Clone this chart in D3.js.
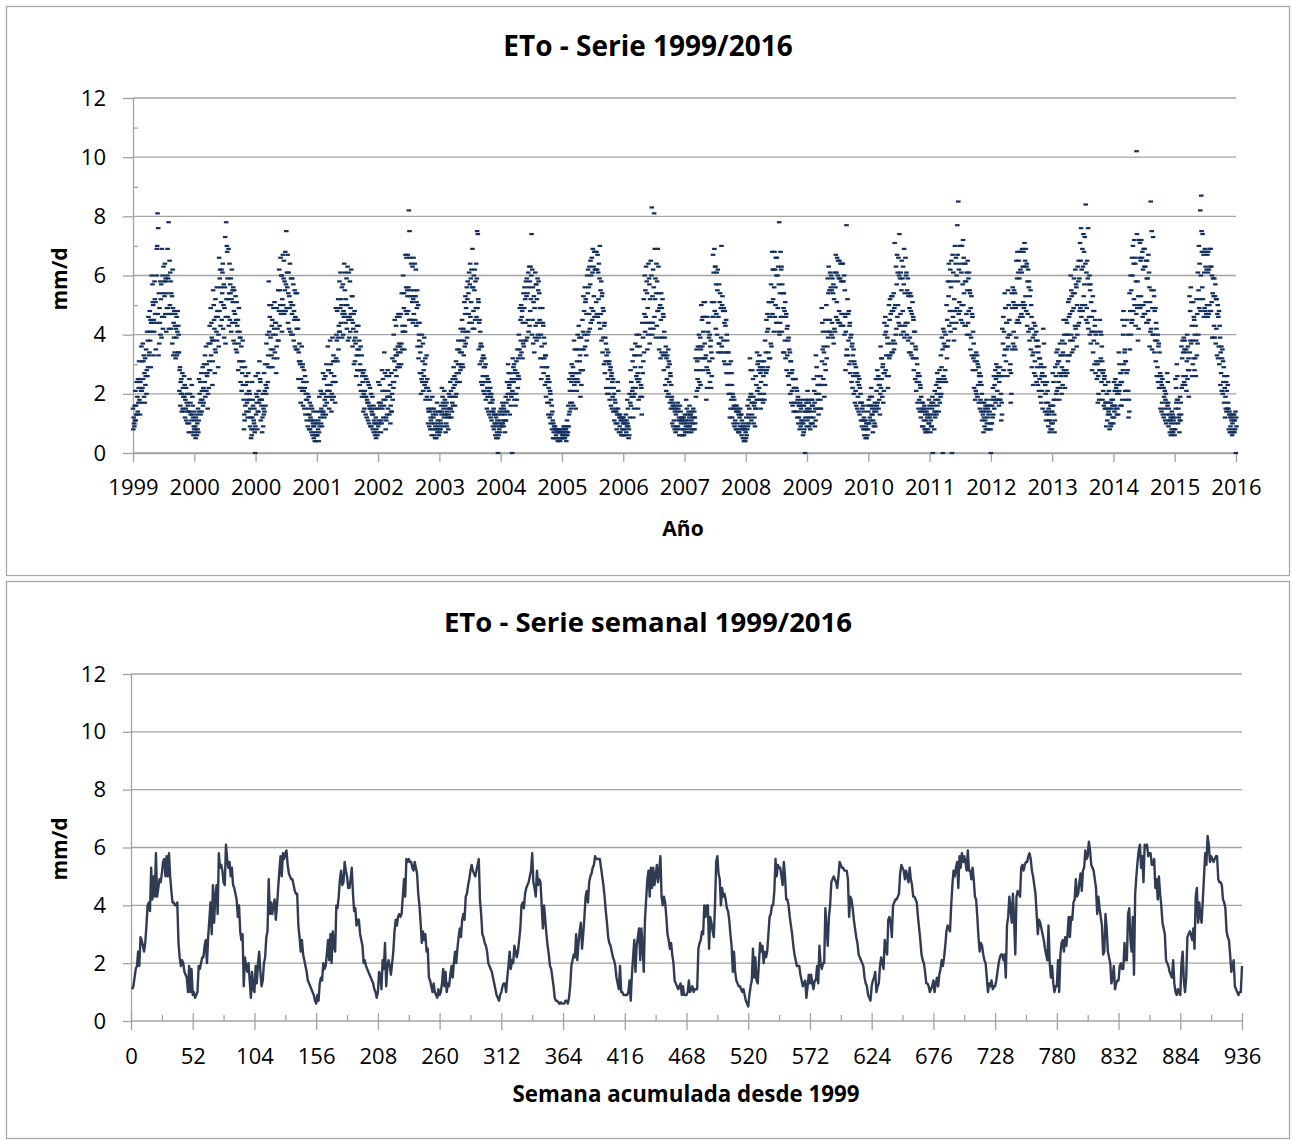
<!DOCTYPE html>
<html>
<head>
<meta charset="utf-8">
<script src="https://cdn.jsdelivr.net/npm/d3@7"></script>
<style>
  body { margin: 0; background: #fff; }
  svg text { font-family: "Open Sans", sans-serif; fill: #000; }
</style>
</head>
<body>
<svg id="chart" width="1292" height="1140"></svg>
<script>
// ---- weekly ETo (mm/d), 52 weeks per year ----
const weekly1999 = [1.1,1.2,1.5,1.8,1.9,2.4,1.9,2.9,2.8,2.6,2.4,2.7,3.3,4.0,4.1,3.8,5.3,4.2,5.0,4.3,5.8,4.3,4.6,4.9,4.8,5.1,5.5,5.6,5.0,5.7,5.0,5.8,5.0,4.5,4.1,4.1,4.0,4.0,4.1,2.7,2.2,1.9,2.1,2.0,1.7,1.6,1.5,1.0,1.9,1.0,1.8,0.9];
const weekly2000 = [1.0,0.8,0.9,1.0,1.9,1.8,2.0,2.2,2.2,2.6,2.8,2.0,2.9,3.5,4.1,3.0,4.7,3.4,4.3,4.7,3.7,5.8,5.3,5.4,5.2,4.8,4.7,6.1,5.6,5.3,5.5,5.0,5.3,4.7,4.6,4.4,4.2,3.6,4.0,3.1,2.8,3.0,1.2,2.2,1.9,1.7,2.0,1.4,0.8,1.7,1.1,1.0];
const weekly2001 = [1.9,1.3,2.0,2.4,1.7,1.2,1.4,2.0,2.2,2.9,3.1,4.9,3.7,4.1,3.7,4.0,4.2,3.5,4.0,4.6,5.2,5.7,5.0,5.8,5.6,5.8,5.9,5.4,5.1,5.0,4.9,4.9,4.7,4.5,4.4,4.4,3.3,2.9,2.4,2.8,2.3,2.1,1.9,1.7,1.4,1.3,1.2,1.1,1.0,0.9,0.7,0.6];
const weekly2002 = [0.9,0.7,1.3,1.5,1.4,2.0,1.8,1.9,2.3,2.8,2.1,3.0,2.0,3.1,2.6,2.4,4.0,3.9,4.3,4.9,5.2,4.7,4.8,5.5,5.2,5.0,4.6,4.6,4.9,5.3,4.4,3.8,3.9,3.3,3.5,3.5,3.0,2.8,2.6,2.0,2.1,1.9,1.8,1.7,1.6,1.5,1.4,1.3,1.1,1.0,0.8,1.0];
const weekly2003 = [1.7,1.6,1.1,2.1,1.8,2.7,1.2,1.9,2.1,1.9,1.6,2.0,2.4,3.1,3.5,3.3,3.6,3.7,3.6,3.7,4.3,4.9,4.3,5.6,5.5,5.6,5.5,5.5,5.3,5.2,5.5,5.3,5.1,4.4,4.0,3.4,2.7,3.1,2.8,3.0,2.4,2.5,1.5,1.4,1.2,1.0,1.3,1.0,0.9,0.8,1.1,0.9];
const weekly2004 = [1.0,1.3,1.8,1.2,1.7,1.0,1.3,1.2,1.6,1.9,1.5,2.0,2.4,2.0,2.5,2.9,3.2,2.9,3.5,3.7,3.5,4.3,4.4,4.7,4.9,5.2,5.4,5.2,5.1,5.0,5.2,5.4,5.6,4.2,3.7,3.0,2.9,2.7,2.6,2.4,2.0,1.9,1.8,1.7,1.5,1.3,1.1,0.9,0.8,0.7,0.9,1.0];
const weekly2005 = [1.2,1.3,1.3,1.0,1.5,1.9,2.4,1.8,2.1,2.0,2.6,2.4,2.2,2.4,2.8,3.2,4.0,4.1,3.9,4.4,4.6,4.7,4.8,5.0,5.2,5.8,4.8,4.6,4.3,5.2,4.7,4.9,4.8,4.0,3.2,4.0,3.5,3.0,2.6,2.3,1.9,1.8,1.5,1.2,0.8,0.7,0.7,0.65,0.6,0.65,0.6,0.6];
const weekly2006 = [0.6,0.7,0.7,0.6,0.8,1.2,1.9,2.1,2.3,2.2,3.0,2.1,2.7,3.1,3.4,2.5,3.0,3.6,4.3,4.5,4.1,4.8,5.0,5.1,5.3,5.4,5.7,5.6,5.6,5.6,5.6,5.3,5.0,4.7,4.3,3.8,3.4,2.9,2.7,2.6,2.4,2.2,2.1,1.9,1.5,1.3,1.1,1.9,1.0,1.0,0.9,0.9];
const weekly2007 = [0.9,0.9,1.0,1.4,0.7,1.6,2.2,2.8,1.7,2.6,2.9,3.2,2.1,3.2,2.6,1.7,3.5,4.2,4.9,5.2,4.3,5.3,4.6,5.3,4.7,5.0,5.4,4.8,5.2,5.7,4.3,4.0,4.3,4.1,3.6,3.0,2.8,2.5,2.7,2.3,2.0,1.4,1.3,1.2,1.1,1.2,1.3,0.9,1.2,0.9,0.9,0.9];
const weekly2008 = [1.0,1.4,1.0,1.1,1.2,1.0,1.1,1.1,1.1,2.5,2.7,2.8,3.1,3.0,4.0,3.6,4.0,4.0,2.5,3.6,3.4,3.1,2.9,4.0,5.5,5.7,5.1,4.9,4.0,4.6,4.3,4.4,4.2,3.9,3.8,3.5,3.0,2.6,1.7,2.4,1.7,1.4,1.3,1.2,1.2,1.1,1.0,1.1,0.9,0.7,0.6,0.5];
const weekly2009 = [0.9,1.2,1.4,2.5,1.5,2.2,1.4,1.3,2.0,2.7,2.4,2.6,2.0,2.4,2.2,2.4,3.0,3.6,3.7,4.0,4.0,4.5,5.6,5.0,5.4,5.3,5.3,5.0,4.7,5.5,5.0,4.2,4.2,4.0,3.6,3.3,3.0,2.6,2.3,2.1,1.9,1.9,1.9,1.6,1.4,1.2,1.3,1.4,0.8,1.2,1.6,1.3];
const weekly2010 = [1.6,1.3,1.1,1.4,1.4,1.9,1.3,2.6,2.0,1.8,2.0,2.0,3.9,3.2,2.6,3.6,4.0,4.8,4.9,5.0,4.9,4.8,4.6,5.0,5.5,5.4,5.3,5.3,5.2,5.2,5.2,4.9,3.6,4.3,4.2,3.9,3.5,3.2,2.9,2.7,2.3,2.2,2.1,2.0,1.9,1.5,1.3,1.2,0.9,0.8,0.7,1.2];
const weekly2011 = [1.4,1.5,1.7,1.0,1.2,1.3,1.9,2.2,2.0,1.8,2.8,2.5,2.3,3.5,3.6,3.4,2.9,4.0,4.1,4.2,4.2,4.3,4.4,5.1,5.4,5.3,5.2,4.9,5.2,5.0,4.8,5.3,4.9,4.7,4.3,4.3,4.2,4.1,3.6,3.2,2.8,2.3,2.1,2.0,1.7,1.3,1.3,1.2,1.0,1.1,1.2,1.4];
const weekly2012 = [1.0,1.3,1.5,1.2,1.6,1.8,2.1,1.9,2.2,2.6,3.1,3.3,3.2,3.1,4.0,4.7,5.2,5.0,5.3,5.5,4.6,5.7,5.3,5.8,5.5,5.7,5.5,5.2,5.9,5.2,5.2,4.9,5.3,4.9,4.3,4.2,3.6,2.9,2.4,2.7,2.6,2.3,2.1,2.0,1.5,1.0,1.3,1.2,1.4,1.1,1.2,1.2];
const weekly2013 = [1.4,1.7,2.0,2.2,2.3,2.3,2.1,2.3,1.5,3.3,3.6,4.3,3.9,3.4,4.4,3.5,2.3,4.3,4.5,4.4,4.3,5.3,5.4,5.2,5.4,5.5,5.5,5.7,5.8,5.6,5.2,5.0,4.7,4.4,3.7,3.0,3.5,3.4,3.2,3.0,2.8,2.5,2.3,2.1,3.3,2.0,1.5,1.9,1.3,1.0,1.2,1.2];
const weekly2014 = [2.1,1.0,2.3,2.7,2.8,2.4,2.9,2.6,3.0,3.6,2.9,3.6,3.5,4.1,4.2,4.9,4.3,4.4,4.8,5.1,4.5,5.2,5.3,5.9,5.6,5.7,6.2,5.9,5.4,5.3,5.2,4.9,4.6,3.7,4.3,3.9,3.6,3.3,2.3,2.4,3.7,3.2,2.4,2.2,2.0,1.3,1.5,1.9,1.1,1.3,1.4,1.4];
const weekly2015 = [1.9,2.0,1.8,1.8,2.7,2.1,2.1,3.7,3.9,2.8,2.4,3.6,1.6,4.4,5.0,5.5,5.9,6.1,5.3,5.7,4.8,6.1,6.0,6.1,5.7,5.8,5.8,5.4,5.4,5.6,4.6,4.9,4.2,5.0,4.4,4.0,3.4,3.2,3.0,2.1,2.0,1.9,1.7,1.6,1.5,2.1,1.3,1.0,0.9,1.1,1.0,0.9];
const weekly2016 = [2.0,2.4,1.4,1.0,1.5,2.9,3.0,3.1,3.0,2.8,3.2,2.5,4.3,4.6,3.4,4.1,3.6,3.4,4.2,5.0,5.8,5.4,6.4,6.1,5.5,5.7,5.6,5.5,5.6,5.7,5.7,4.9,4.8,4.8,4.7,4.2,4.1,3.9,3.1,2.9,2.8,2.3,1.7,1.9,2.1,1.2,1.1,1.0,0.9,1.0,1.0,1.9];
const weeklyByYear = [weekly1999, weekly2000, weekly2001, weekly2002, weekly2003, weekly2004, weekly2005, weekly2006, weekly2007,
  weekly2008, weekly2009, weekly2010, weekly2011, weekly2012, weekly2013, weekly2014, weekly2015, weekly2016];

// ---- daily ETo, tenths of mm, one reading every 2nd day from 1 Jan ----
const dailyYears = [1999, 2000, 2001, 2002, 2003, 2004, 2005, 2006, 2007, 2008, 2009, 2010, 2011, 2012, 2013, 2014, 2015, 2016];
const dailyTenths = [
  "15 8 12 10 9 16 11 21 11 16 13 24 13 19 14 25 17 22 31 18 25 13 24 17 21 36 21 31 22 37 25 31 33 19 27 17 32 23 26 35 20 28 41 26 38 29 46 33 41 34 48 38 45 29 44 41 60 44 57 51 50 33 45 41 58 52 47 51 35 44 60 69 70 81 47 76 33 54 37 49 44 58 40 52 57 39 69 46 60 42 54 63 46 58 53 64 47 59 58 41 54 49 60 69 49 59 78 42 47 65 50 61 58 42 54 47 53 37 62 49 33 44 39 48 34 43 47 32 42 39 46 33 41 48 34 43 40 34 21 28 29 16 24 20 25 14 20 27 15 22 19 14 26 19 23 12 18 15 22 11 17 20 10 16 14 14 7 10 25 14 20 17 13 7 11 23 13 19 16 12 6 9 8",
  "14 7 11 9 5 12 8 13 6 10 8 15 7 11 25 14 20 17 24 13 18 27 14 21 18 29 16 22 17 30 21 24 33 19 27 36 21 30 26 27 15 20 37 22 31 28 43 28 37 49 33 44 39 38 23 31 55 38 50 45 42 27 35 52 34 46 41 56 38 48 46 29 40 36 66 48 59 62 43 56 51 62 45 54 61 64 42 50 57 39 49 56 73 37 46 78 52 70 68 59 46 52 69 43 54 64 45 57 54 59 41 52 62 44 55 51 56 38 48 55 37 47 44 53 35 45 51 34 43 41 45 28 37 49 31 41 39 39 24 31 36 21 29 27 38 23 31 18 8 13 11 29 16 23 26 14 20 17 24 12 18 27 14 21 18 20 9 15 12 5 8 6 24 12 18 16 8 11 10 15 7 0 9",
  "26 13 20 17 19 8 14 27 14 21 17 31 18 25 24 11 18 16 18 7 12 20 9 15 13 27 14 21 30 16 23 20 37 22 30 40 24 33 29 58 41 50 46 29 39 35 50 33 43 45 29 40 35 49 32 42 51 34 44 40 44 27 36 49 32 42 38 55 38 48 62 43 55 50 66 47 60 60 41 52 48 67 50 59 65 47 58 55 68 48 57 75 49 61 56 67 44 54 61 42 53 49 64 41 51 59 40 50 47 59 40 50 57 38 48 45 55 36 46 54 35 45 42 54 35 45 42 25 34 31 37 22 30 31 17 25 22 36 21 29 30 16 24 21 28 15 22 26 13 20 18 24 11 18 20 9 15 13 19 8 13 17 8 12 11 16 7 11 15 6 10 9 14 5 9 11 4 7 6 10 4 6 6",
  "14 6 10 8 11 4 7 19 9 14 12 21 10 15 20 9 14 13 27 14 20 25 12 18 16 26 13 19 30 17 23 21 36 21 28 28 15 21 19 38 23 30 27 14 20 18 39 24 31 33 19 26 24 31 17 24 49 32 40 38 48 31 39 52 35 43 41 58 41 49 61 44 52 50 56 39 47 57 40 48 46 64 47 55 61 44 52 50 59 42 50 63 38 46 45 61 39 46 58 41 49 47 62 45 53 53 36 44 42 47 30 38 48 31 39 37 41 26 33 43 28 35 33 43 28 35 38 23 30 28 36 21 28 33 19 26 24 27 14 20 28 15 21 19 26 13 19 25 12 18 17 24 11 17 23 10 16 15 22 9 15 20 9 14 13 19 8 13 16 7 11 10 15 6 10 12 5 8 7 15 6 10 9",
  "24 11 17 15 23 10 16 17 7 11 10 28 15 21 25 12 18 16 34 21 27 18 8 12 11 26 13 19 28 15 21 19 26 13 19 23 10 16 14 27 14 20 32 18 24 22 40 24 31 45 28 35 33 43 26 33 46 29 36 34 47 30 37 46 29 36 34 47 30 37 54 35 43 41 60 41 49 54 35 43 41 67 48 56 66 47 55 53 67 48 56 82 45 75 53 66 45 55 64 45 53 51 63 44 52 66 47 55 53 64 45 53 62 43 51 49 55 36 44 50 32 40 38 44 27 34 36 20 27 25 40 24 31 37 21 28 26 39 23 30 32 18 24 22 33 19 25 22 10 15 14 21 9 14 18 8 12 11 15 6 10 19 8 13 12 15 6 10 14 5 9 8 13 5 8 17 7 11 10 14 6 9 8",
  "14 7 11 8 16 10 13 22 14 19 17 9 15 12 21 13 18 16 7 13 10 17 9 14 12 15 8 13 20 12 19 15 24 15 21 12 19 14 17 25 16 22 29 19 26 23 16 25 19 31 20 27 24 35 24 30 38 27 35 30 24 34 28 42 29 38 34 45 30 41 29 42 33 38 51 36 47 53 37 49 41 56 39 52 58 41 54 47 61 44 57 64 46 59 51 62 44 56 69 42 56 48 60 42 55 62 45 58 49 64 46 59 75 49 74 52 51 35 44 45 30 41 36 37 24 31 36 23 32 26 33 21 29 32 20 29 24 30 18 26 26 15 22 19 25 14 21 24 13 20 17 22 12 19 20 11 17 14 18 9 14 15 8 13 10 13 6 10 12 5 9 7 11 5 0 13 6 10 8 14 7 11 9",
  "15 9 13 10 17 10 14 16 9 15 11 13 7 11 19 11 17 14 24 14 20 30 18 27 22 23 13 20 27 16 24 19 25 0 21 32 20 29 24 30 18 27 28 16 25 20 31 18 27 35 22 32 26 40 25 35 49 33 45 38 50 34 46 48 32 44 37 54 36 49 56 38 52 44 58 38 53 59 39 54 45 61 41 56 63 43 58 48 63 52 60 74 40 62 45 56 37 51 53 34 49 39 61 43 57 57 38 52 44 59 40 55 58 39 54 45 49 32 44 40 25 36 29 49 32 44 43 27 39 32 37 23 33 33 19 29 24 29 17 26 25 13 22 17 24 12 21 20 10 18 13 16 8 14 11 5 10 7 9 5 8 9 5 8 6 8 5 7 8 4 7 5 8 5 7 8 4 7 5 8 5 7 6",
  "8 5 7 6 9 5 7 9 5 8 6 8 4 7 11 6 9 7 16 9 13 25 14 21 17 27 15 24 30 17 26 21 29 16 25 38 23 35 27 27 15 24 35 21 31 25 40 24 35 43 27 39 31 33 19 28 39 23 35 28 45 28 41 53 35 48 40 56 36 51 52 33 47 38 60 40 54 62 41 56 47 63 42 57 65 44 60 49 66 45 61 69 48 63 53 68 46 62 68 46 62 51 68 47 62 67 46 61 52 64 44 59 70 42 55 47 58 38 53 54 34 49 39 48 30 43 44 27 39 31 37 22 33 35 20 31 25 34 20 30 31 18 28 22 29 16 26 27 15 24 19 25 14 22 20 11 18 14 17 10 15 14 8 13 10 24 15 21 13 7 12 9 13 7 11 12 6 11 8 12 6 10 8",
  "12 6 10 8 11 6 10 13 7 11 9 18 10 15 9 5 8 6 20 12 17 28 16 24 19 35 21 31 22 12 19 15 33 20 29 37 22 33 26 40 25 36 27 15 24 18 40 25 36 33 19 29 23 22 13 19 44 27 39 31 52 34 47 60 41 55 46 63 44 58 54 35 49 40 64 44 59 57 37 52 42 65 44 60 83 40 53 44 62 42 56 81 46 69 52 59 39 54 64 43 58 48 69 48 63 54 35 49 39 50 32 45 54 34 49 39 52 33 47 46 28 41 33 39 23 34 36 21 32 25 33 19 29 35 20 31 24 30 17 27 26 15 23 18 19 10 16 17 9 15 11 16 8 14 15 7 13 9 16 8 14 17 9 15 11 12 6 11 16 8 14 10 12 6 11 12 6 11 8 12 6 10 8",
  "13 7 11 9 18 10 15 13 7 11 9 14 8 12 16 9 13 10 13 7 11 14 8 12 10 15 8 12 14 8 12 10 32 19 28 35 21 31 25 36 22 32 40 24 36 28 39 23 35 50 32 45 36 46 28 41 51 32 46 37 51 32 46 33 18 29 22 46 28 41 44 27 39 31 40 24 36 38 22 34 26 51 32 46 67 46 61 51 69 48 63 63 42 57 47 61 40 55 62 34 46 37 57 37 51 54 34 49 39 70 36 50 53 34 48 38 49 31 44 48 30 43 34 45 27 40 38 23 34 27 34 20 30 23 12 20 15 31 18 27 23 12 20 15 19 10 16 18 9 15 11 16 8 14 16 8 14 10 15 7 13 14 7 12 9 15 8 13 13 6 11 8 10 5 9 9 4 8 5 8 4 7 5",
  "12 6 10 8 16 9 13 18 10 15 12 32 19 28 20 11 17 13 28 17 25 19 10 16 12 17 9 15 26 15 23 18 34 21 30 31 18 28 22 33 20 29 27 15 24 18 31 18 28 29 17 26 20 31 18 28 38 23 34 27 45 28 41 47 29 42 34 51 32 46 51 32 46 37 57 36 51 68 47 62 52 62 41 56 68 46 62 50 66 44 60 66 44 60 49 63 41 57 78 40 54 44 68 46 62 63 41 57 46 54 34 49 54 34 48 38 51 32 46 47 28 42 33 43 26 38 39 23 35 27 34 20 31 31 17 27 21 28 16 25 25 14 22 17 25 14 22 25 14 22 17 21 12 18 19 10 16 12 16 8 14 17 9 15 11 18 10 16 11 6 10 7 16 8 14 0 12 18 14 17 9 15 11",
  "21 12 18 14 17 9 15 14 8 12 10 18 10 16 18 10 16 12 25 14 21 17 9 15 11 33 20 29 26 15 23 18 23 13 20 26 15 23 18 26 15 23 49 31 44 35 41 25 36 34 19 30 23 45 28 41 50 32 45 36 59 39 54 63 41 55 45 61 41 56 60 40 55 44 59 39 54 57 37 52 42 61 41 56 67 46 61 51 66 45 60 65 44 59 48 65 44 59 64 43 58 47 64 43 58 64 43 58 47 60 40 55 46 28 41 33 77 35 47 52 33 47 38 48 30 43 44 27 39 31 40 24 36 37 22 33 26 35 20 31 30 17 27 21 29 16 26 27 15 24 19 26 14 23 25 13 22 17 20 11 17 17 9 15 11 16 8 14 12 6 11 8 11 5 9 10 5 8 6 16 8 14 10",
  "18 10 16 12 19 11 16 22 13 19 15 13 7 11 16 9 14 10 17 9 15 25 14 21 16 28 17 25 26 15 23 18 23 13 20 36 22 32 25 32 19 29 30 17 27 21 44 27 40 46 28 41 33 43 26 39 37 22 33 26 50 32 45 52 33 47 37 53 34 48 53 34 48 38 54 35 49 71 37 50 40 63 42 57 67 46 61 50 66 44 60 74 43 59 47 61 40 55 65 43 59 48 63 41 57 69 39 54 43 66 44 60 61 40 55 44 59 38 53 54 34 49 39 54 34 48 53 33 47 37 51 32 46 45 28 41 32 41 25 36 35 21 32 24 30 17 26 27 15 24 18 26 14 23 22 12 19 14 17 9 15 17 9 15 11 16 8 14 13 7 11 8 14 7 12 15 8 13 10 18 10 16 12",
  "13 7 11 9 17 9 15 19 0 17 13 16 8 14 21 12 18 14 23 13 20 27 16 24 18 25 14 22 28 17 25 19 33 20 29 39 24 35 0 42 26 37 41 25 36 28 40 24 36 50 32 45 36 58 38 53 64 43 58 48 62 41 56 65 44 0 48 67 46 61 58 38 52 42 70 48 64 66 44 60 49 77 67 58 85 47 62 51 70 48 64 70 45 61 50 70 44 57 72 50 66 54 64 43 58 64 43 58 47 61 40 55 65 44 59 48 61 40 55 54 35 49 39 53 33 47 46 28 41 32 37 22 33 31 18 28 21 34 20 31 33 19 30 23 29 17 26 27 15 24 18 26 14 23 20 11 17 13 14 7 12 17 9 15 11 16 8 14 18 10 16 12 15 8 13 16 8 14 10 16 8 0 10",
  "18 10 16 12 22 13 19 26 15 23 18 28 17 25 30 18 26 21 29 18 26 27 16 24 18 29 18 26 20 11 17 13 42 26 37 46 28 41 33 54 35 49 49 31 44 35 44 26 39 55 36 50 40 45 28 40 30 17 27 20 54 35 49 56 37 51 41 55 36 50 54 35 49 39 65 44 59 68 45 61 50 65 44 59 68 46 62 50 68 47 61 69 46 63 51 68 49 63 71 50 65 53 69 48 63 64 43 58 47 62 41 56 58 38 53 42 55 35 50 46 29 42 33 39 23 34 44 27 40 31 43 26 38 41 24 36 29 38 23 34 36 21 32 25 32 19 29 30 17 26 21 27 15 24 42 26 37 29 26 14 23 20 11 17 13 24 14 21 17 9 15 11 13 7 11 16 8 14 10 16 8 14 10",
  "27 16 24 18 13 7 11 29 18 26 20 34 21 30 35 22 31 24 31 18 27 37 22 33 26 33 20 29 38 23 34 27 45 28 40 37 22 33 26 45 28 40 44 27 40 31 51 33 46 52 33 47 38 60 40 55 53 34 48 38 54 35 49 59 39 54 43 62 42 57 56 36 50 40 63 43 58 65 44 59 48 71 49 65 76 46 62 50 69 48 63 74 53 68 57 73 50 64 84 45 61 49 65 44 59 76 42 57 46 60 40 55 57 37 51 41 46 28 41 53 34 48 38 48 30 43 45 27 40 31 41 25 37 30 17 26 20 31 18 28 45 28 41 32 40 24 36 31 18 27 21 28 16 25 26 15 23 17 17 9 15 20 11 17 13 24 14 21 15 8 13 10 17 9 15 18 10 16 12 18 10 16 12",
  "24 14 21 16 25 15 22 23 13 20 15 23 13 20 34 21 30 23 27 16 24 27 16 24 18 45 28 40 48 30 43 34 35 21 31 31 18 27 21 45 28 40 21 12 18 14 54 35 48 60 40 55 44 66 45 60 70 48 64 52 72 50 66 64 43 58 47 102 74 49 58 38 53 42 72 50 66 71 49 65 53 72 50 66 68 46 62 50 69 47 63 69 47 63 51 65 44 59 65 44 59 48 67 45 61 56 36 51 41 85 42 55 75 35 49 40 73 40 55 53 34 48 38 49 31 44 42 26 38 29 40 24 36 37 22 34 26 27 15 24 26 14 23 17 25 13 22 22 12 19 15 21 11 18 20 10 17 13 27 16 24 17 9 15 11 13 7 11 12 6 10 8 14 7 12 13 7 11 8 12 6 10 8",
  "25 15 22 17 30 18 26 18 10 15 12 13 7 11 19 11 17 13 36 22 32 38 23 34 26 39 24 35 38 23 34 26 35 21 31 40 25 36 28 32 19 28 53 34 48 38 56 37 51 43 26 38 30 51 32 46 45 28 40 32 43 26 38 52 33 47 37 61 40 55 70 49 64 52 82 48 60 87 75 68 56 74 52 68 67 46 61 49 69 48 63 68 47 62 50 67 46 61 68 47 62 50 69 48 63 69 48 63 51 60 39 54 59 39 53 43 59 39 53 57 37 52 42 52 33 47 50 32 46 36 48 30 43 39 23 34 27 36 21 32 35 20 31 24 29 17 26 22 12 19 15 24 14 21 26 15 23 17 15 8 13 14 7 12 9 13 7 11 12 6 10 8 13 7 11 13 7 11 8 14 0 12 9"
];

// ---- axis ticks ----
const yMajor = [0, 2, 4, 6, 8, 10, 12];
const yMinor = [1, 3, 5, 7, 9, 11];
const topTickLabels = ["1999","2000","2000","2001","2002","2003","2004","2005","2006","2007","2008","2009","2010","2011","2012","2013","2014","2015","2016"];
const weekTicks = [0,52,104,156,208,260,312,364,416,468,520,572,624,676,728,780,832,884,936];
const weekMinor = [26,78,130,182,234,286,338,390,442,494,546,598,650,702,754,806,858,910];

const gridColor = "#a3a3a3";
const dotColor = "#12305f";
const lineColor = "#303c54";

const origin = new Date(1999, 0, 1);
const dailyPoints = [];
dailyYears.forEach((yr, i) => {
  const start = d3.timeDay.count(origin, new Date(yr, 0, 1));
  dailyTenths[i].trim().split(/\s+/).forEach((v, j) => {
    dailyPoints.push({ day: start + 2 * j, eto: +v / 10 });
  });
});
const weeklyPoints = weeklyByYear.flat().map((v, i) => ({ week: i + 1, eto: v }));

const svg = d3.select("#chart");

// panel frames
svg.append("rect").attr("x", 6.5).attr("y", 6.5).attr("width", 1283).attr("height", 569)
  .attr("fill", "none").attr("stroke", "#a8a8a8").attr("stroke-width", 1.3);
svg.append("rect").attr("x", 6.5).attr("y", 581.5).attr("width", 1283).attr("height", 557)
  .attr("fill", "none").attr("stroke", "#a8a8a8").attr("stroke-width", 1.3);

function styleAxis(g, fontSize) {
  g.select(".domain").attr("stroke", gridColor).attr("stroke-width", 1.3);
  g.selectAll(".tick line").attr("stroke", gridColor).attr("stroke-width", 1.3);
  g.selectAll(".tick text").attr("font-size", fontSize).attr("fill", "#000")
    .attr("font-family", "'Open Sans', sans-serif");
}

// ================= upper chart: daily =================
const xTop = d3.scaleLinear().domain([0, 18 * 365]).range([133, 1236]);
const yTop = d3.scaleLinear().domain([0, 12]).range([453, 98]);
const gTop = svg.append("g");

gTop.append("g").selectAll("line").data(yMajor).join("line")
  .attr("x1", 133).attr("x2", 1236)
  .attr("y1", d => yTop(d)).attr("y2", d => yTop(d))
  .attr("stroke", gridColor).attr("stroke-width", 1.3);

const yAxTop = gTop.append("g").attr("transform", "translate(133,0)")
  .call(d3.axisLeft(yTop).tickValues(yMajor).tickSizeInner(10).tickSizeOuter(0).tickPadding(17));
styleAxis(yAxTop, 22);

const yMinTop = gTop.append("g").attr("transform", "translate(133,0)")
  .call(d3.axisRight(yTop).tickValues(yMinor).tickSize(5).tickFormat(""));
yMinTop.select(".domain").remove();
styleAxis(yMinTop, 22);

const xAxTop = gTop.append("g").attr("transform", "translate(0,453)")
  .call(d3.axisBottom(xTop).tickValues(topTickLabels.map((_, k) => k * 365))
    .tickFormat((d, i) => topTickLabels[i]).tickSizeInner(9).tickSizeOuter(0).tickPadding(17));
styleAxis(xAxTop, 22);

gTop.append("g").selectAll("rect").data(dailyPoints).join("rect")
  .attr("x", d => xTop(d.day) - 2.3).attr("y", d => yTop(d.eto) - 1.1)
  .attr("width", 4.6).attr("height", 2.2).attr("fill", dotColor);

gTop.append("text").attr("x", 648).attr("y", 56).attr("text-anchor", "middle")
  .attr("font-size", 28).attr("font-weight", "bold").text("ETo - Serie 1999/2016");
gTop.append("text").attr("transform", "translate(67,279) rotate(-90)").attr("text-anchor", "middle")
  .attr("font-size", 21).attr("font-weight", "bold").text("mm/d");
gTop.append("text").attr("x", 683).attr("y", 536).attr("text-anchor", "middle")
  .attr("font-size", 21).attr("font-weight", "bold").text("Año");

// ================= lower chart: weekly =================
const xBot = d3.scaleLinear().domain([0, 936]).range([131, 1242]);
const yBot = d3.scaleLinear().domain([0, 12]).range([1021, 674]);
const gBot = svg.append("g");

gBot.append("g").selectAll("line").data(yMajor).join("line")
  .attr("x1", 131).attr("x2", 1242)
  .attr("y1", d => yBot(d)).attr("y2", d => yBot(d))
  .attr("stroke", gridColor).attr("stroke-width", 1.3);

const yAxBot = gBot.append("g").attr("transform", "translate(131,0)")
  .call(d3.axisLeft(yBot).tickValues(yMajor).tickSizeInner(8).tickSizeOuter(0).tickPadding(17));
styleAxis(yAxBot, 22);

const xAxBot = gBot.append("g").attr("transform", "translate(0,1013)")
  .call(d3.axisBottom(xBot).tickValues(weekTicks).tickSizeInner(17).tickSizeOuter(0).tickPadding(18));
xAxBot.select(".domain").remove();
styleAxis(xAxBot, 22);

const xMinBot = gBot.append("g").attr("transform", "translate(0,1015)")
  .call(d3.axisBottom(xBot).tickValues(weekMinor).tickSize(6).tickFormat(""));
xMinBot.select(".domain").remove();
styleAxis(xMinBot, 22);

gBot.append("path").datum(weeklyPoints)
  .attr("d", d3.line().x(d => xBot(d.week)).y(d => yBot(d.eto)))
  .attr("fill", "none").attr("stroke", lineColor).attr("stroke-width", 2.4)
  .attr("stroke-linejoin", "round");

gBot.append("text").attr("x", 648).attr("y", 632).attr("text-anchor", "middle")
  .attr("font-size", 27.5).attr("font-weight", "bold").text("ETo - Serie semanal 1999/2016");
gBot.append("text").attr("transform", "translate(67,849) rotate(-90)").attr("text-anchor", "middle")
  .attr("font-size", 21).attr("font-weight", "bold").text("mm/d");
gBot.append("text").attr("x", 686).attr("y", 1102).attr("text-anchor", "middle")
  .attr("font-size", 22.3).attr("font-weight", "bold").text("Semana acumulada desde 1999");
</script>
</body>
</html>
